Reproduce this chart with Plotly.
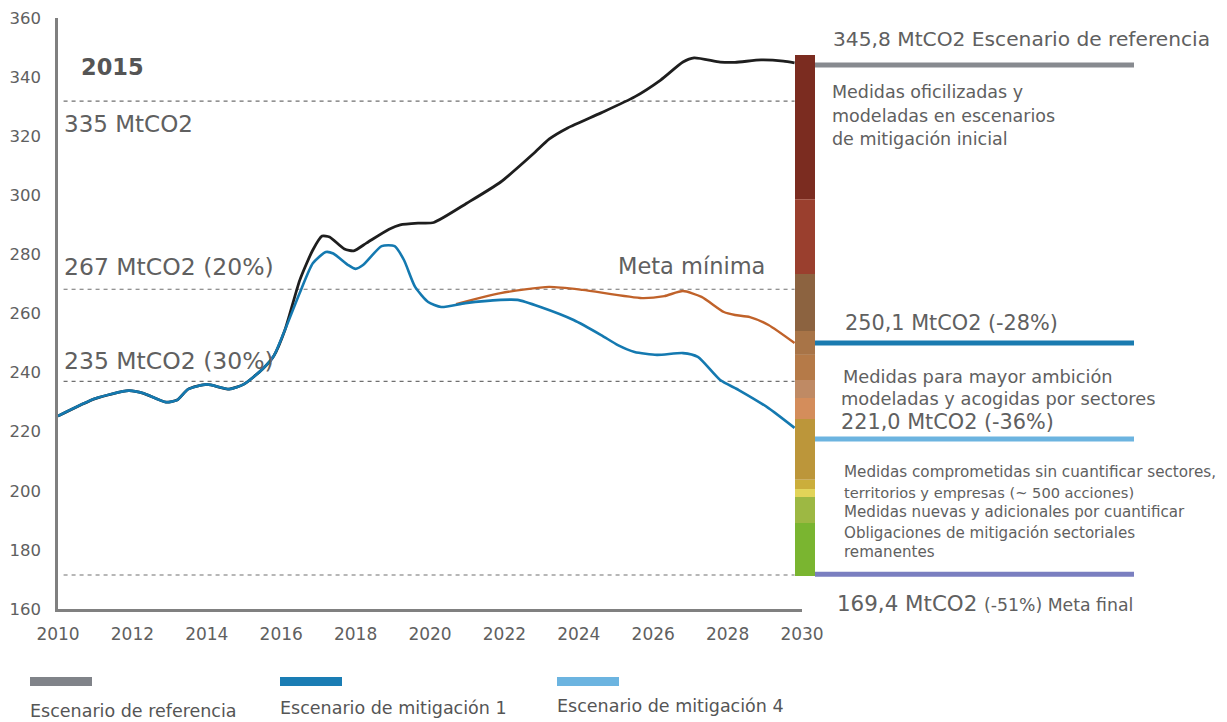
import plotly.graph_objects as go

# ---------------- data ----------------
common_years = [2010.0, 2011.0, 2011.9, 2012.3, 2012.9, 2013.2, 2013.5, 2014.0, 2014.6, 2015.0, 2015.5, 2015.8, 2016.1]
common_vals = [225.3, 231.2, 233.9, 233.0, 230.0, 230.7, 234.4, 236.0, 234.4, 236.1, 241.2, 245.6, 254.4]

ref_years = [2016.5, 2016.85, 2017.1, 2017.3, 2017.7, 2017.95, 2018.3, 2018.9, 2019.2, 2019.7, 2020.1,
             2021.0, 2021.9, 2022.8, 2023.2, 2023.7, 2024.6, 2025.5, 2026.2, 2026.8, 2027.1, 2027.8,
             2028.2, 2028.9, 2029.5, 2029.8]
ref_vals = [271.3, 281.5, 286.2, 285.9, 281.8, 281.2, 283.9, 288.5, 290.0, 290.6, 290.8,
            297.4, 304.5, 314.3, 319.0, 322.8, 327.9, 333.3, 339.0, 345.1, 346.5, 345.1,
            345.0, 345.8, 345.4, 344.8]

mit1_years = [2016.5, 2016.85, 2017.2, 2017.4, 2017.8, 2018.0, 2018.2, 2018.7, 2019.05, 2019.3, 2019.6,
              2019.95, 2020.3, 2020.95, 2021.9, 2022.35, 2022.97, 2023.86, 2024.6, 2025.05, 2025.5,
              2026.1, 2026.8, 2027.2, 2027.8, 2028.3, 2029.1, 2029.8]
mit1_vals = [267.0, 277.0, 280.8, 280.3, 276.4, 275.1, 276.4, 282.8, 282.8, 278.1, 269.0,
             263.9, 262.2, 263.5, 264.6, 264.6, 262.2, 257.8, 252.7, 249.3, 247.0,
             246.0, 246.6, 245.3, 237.5, 234.1, 228.0, 221.3]

mid_years = [2020.7, 2021.9, 2023.2, 2024.1, 2025.7, 2026.3, 2026.8, 2027.3, 2027.9, 2028.2, 2028.6, 2029.1, 2029.8]
mid_vals = [263.2, 266.9, 269.0, 268.0, 265.2, 265.9, 267.6, 265.6, 260.5, 259.5, 258.8, 256.1, 250.0]

dashed_levels = [331.9, 268.2, 237.0, 171.5]

bar_bounds = [347.5, 298.7, 273.4, 254.1, 246.0, 237.5, 231.4, 224.3, 203.7, 200.6, 197.9, 189.1, 171.2]
bar_colors = ["#7B2C20", "#9A3F2E", "#8C6340", "#A87447", "#B57A48", "#BF8A64",
              "#D48D5B", "#BC963A", "#CBAE3B", "#E2D458", "#9DB843", "#7AB530"]

target_levels = [344.1, 250.0, 217.5, 171.8]
target_colors = ["#878A8F", "#1A7BB0", "#6CB4E0", "#7A7FC0"]

legend_labels = ["Escenario de referencia", "Escenario de mitigación 1", "Escenario de mitigación 4"]
legend_colors = ["#808389", "#1A7DB4", "#6CB4E0"]

x_ticks = list(range(2010, 2031, 2))
y_ticks = list(range(160, 361, 20))

# ---------------- layout helpers ----------------
PAGE_OFF = 8                      # browser body margin
W, H = 1227 - PAGE_OFF, 722 - PAGE_OFF
L, R_EDGE, T, B_EDGE = 58, 802, 18, 609   # plot area in window pixels
PW, PH = R_EDGE - L, B_EDGE - T


def pxx(x):
    return (x - L) / PW


def pxy(y):
    return (B_EDGE - y) / PH


FONT = "DejaVu Sans"
GRAY = "#606060"

fig = go.Figure()

for lv in dashed_levels:
    fig.add_trace(go.Scatter(x=[2010.15, 2029.8], y=[lv, lv], mode="lines",
                             line=dict(color="#707070", width=1.2, dash="4px,4px"),
                             hoverinfo="skip", showlegend=False))

fig.add_trace(go.Scatter(x=common_years + ref_years, y=common_vals + ref_vals, mode="lines",
                         line=dict(color="#1E1E1E", width=2.8, shape="spline", smoothing=0.6),
                         showlegend=False))
fig.add_trace(go.Scatter(x=mid_years, y=mid_vals, mode="lines",
                         line=dict(color="#C0622A", width=2.4, shape="spline", smoothing=0.6),
                         showlegend=False))
fig.add_trace(go.Scatter(x=common_years + mit1_years, y=common_vals + mit1_vals, mode="lines",
                         line=dict(color="#1479B0", width=2.6, shape="spline", smoothing=0.6),
                         showlegend=False))

shapes = []
for i, c in enumerate(bar_colors):
    shapes.append(dict(type="rect", xref="paper", yref="y", x0=pxx(795), x1=pxx(815),
                       y0=bar_bounds[i + 1], y1=bar_bounds[i], fillcolor=c, line=dict(width=0),
                       layer="above"))
for lv, c in zip(target_levels, target_colors):
    shapes.append(dict(type="line", xref="paper", yref="y", x0=pxx(815), x1=pxx(1134),
                       y0=lv, y1=lv, line=dict(color=c, width=5)))
for xs, c in zip([30, 280, 557], legend_colors):
    shapes.append(dict(type="rect", xref="paper", yref="paper", x0=pxx(xs), x1=pxx(xs + 62),
                       y0=pxy(686), y1=pxy(677), fillcolor=c, line=dict(width=0)))

ann = []


def add_text(text, x, y, size, color=GRAY, anchor="left"):
    ann.append(dict(text=text, x=pxx(x), y=pxy(y), xref="paper", yref="paper",
                    xanchor=anchor, yanchor="middle", showarrow=False,
                    font=dict(family=FONT, size=size, color=color)))


add_text("<b>2015</b>", 79, 67, 22.5, "#555555")
add_text("335 MtCO2", 62, 124, 23)
add_text("267 MtCO2 (20%)", 62, 267, 23.5)
add_text("235 MtCO2 (30%)", 62, 361, 23.5)
add_text("Meta mínima", 616, 266, 22.5)

add_text("345,8 MtCO2 Escenario de referencia", 831, 39, 20.2)
add_text("Medidas oficilizadas y", 830, 92, 17.5)
add_text("modeladas en escenarios", 830, 116, 17.5)
add_text("de mitigación inicial", 830, 139, 17.5)
add_text("250,1 MtCO2 (-28%)", 843, 323, 20.8)
add_text("Medidas para mayor ambición", 841, 376, 17.8)
add_text("modeladas y acogidas por sectores", 839, 398, 17.8)
add_text("221,0 MtCO2 (-36%)", 839, 422, 20.8)
add_text("Medidas comprometidas sin cuantificar sectores,", 842, 472, 15.2)
add_text("territorios y empresas (~ 500 acciones)", 842, 492, 14.6)
add_text("Medidas nuevas y adicionales por cuantificar", 842, 512, 15.1)
add_text("Obligaciones de mitigación sectoriales", 842, 533, 15.1)
add_text("remanentes", 842, 552, 15.1)
add_text("169,4 MtCO2 <span style='font-size:17.3px'>(-51%) Meta final</span>", 835, 603, 21.4)

for xs, yc, lab in zip([28, 278, 555], [711, 708, 706], legend_labels):
    add_text(lab, xs, yc, 17.5, "#555555")

fig.update_layout(
    width=W, height=H,
    margin=dict(l=L - PAGE_OFF, r=W - (R_EDGE - PAGE_OFF), t=T - PAGE_OFF, b=H - (B_EDGE - PAGE_OFF), pad=0,
                autoexpand=False),
    paper_bgcolor="white", plot_bgcolor="white",
    shapes=shapes, annotations=ann, showlegend=False,
    font=dict(family=FONT, color=GRAY),
)
fig.update_xaxes(range=[2010, 2030], tickvals=x_ticks, ticktext=[str(v) for v in x_ticks],
                 showgrid=False, zeroline=False, showline=True, linecolor="#808080", linewidth=2.5,
                 ticks="", tickfont=dict(family=FONT, size=17, color=GRAY), ticklabelstandoff=8,
                 automargin=False, ticklabeloverflow="allow")
fig.update_yaxes(range=[160, 360], tickvals=y_ticks, ticktext=[str(v) for v in y_ticks],
                 showgrid=False, zeroline=False, showline=True, linecolor="#808080", linewidth=2.5,
                 ticks="", tickfont=dict(family=FONT, size=16.5, color=GRAY), ticklabelstandoff=11,
                 automargin=False, ticklabeloverflow="allow")

fig.write_html("out.html")
